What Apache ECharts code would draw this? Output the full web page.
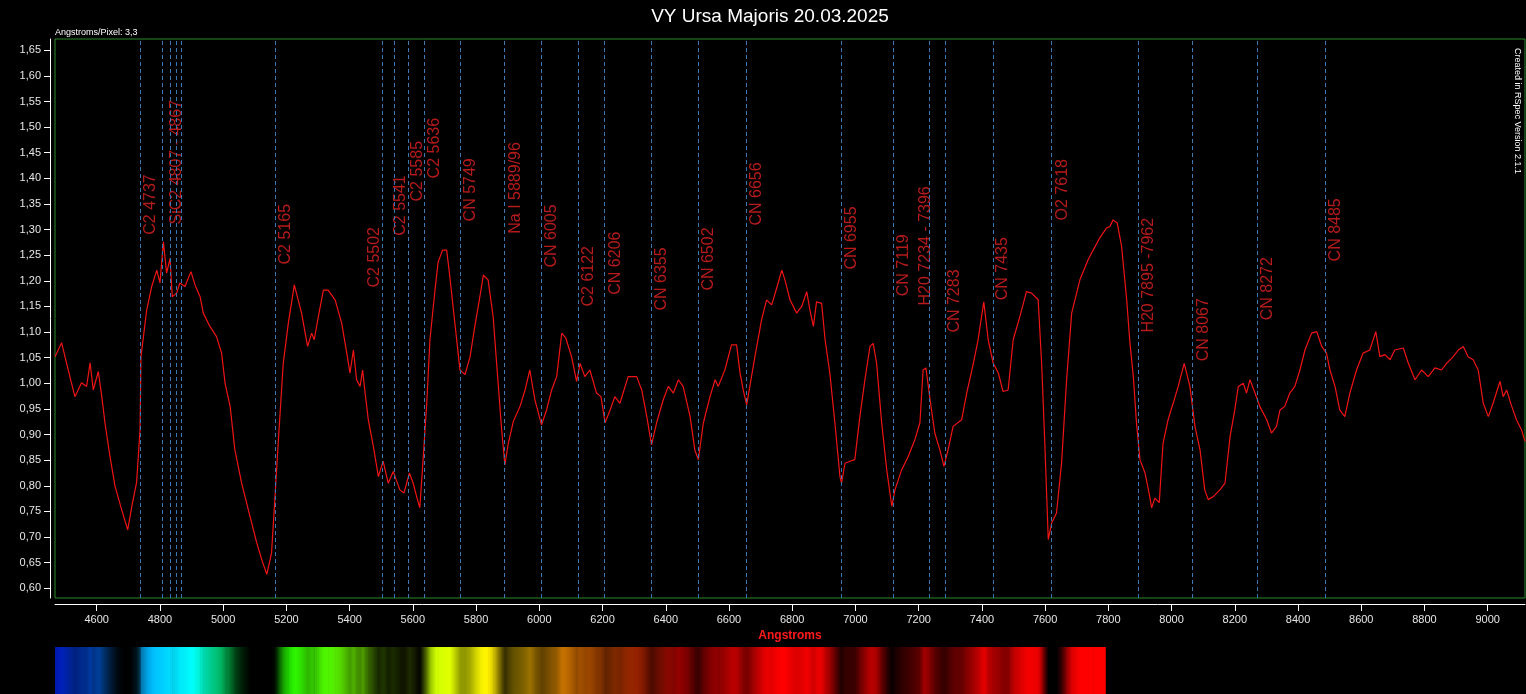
<!DOCTYPE html>
<html>
<head>
<meta charset="utf-8">
<title>VY Ursa Majoris 20.03.2025</title>
<script src="https://cdn.jsdelivr.net/npm/echarts@6/dist/echarts.min.js"></script>
<style>
  html, body { margin: 0; padding: 0; background: #000; }
  #chart { width: 1526px; height: 694px; }
</style>
</head>
<body>
<div id="chart"></div>
<script>
// spectrum (Angstroms / relative flux)
const wavelengths = [
  4468, 4489, 4515, 4531, 4552, 4568, 4579, 4589, 4605, 4616, 4626, 4642, 4658, 4679, 4698, 4711, 4726, 4737, 4740, 4758,
  4774, 4790, 4800, 4811, 4821, 4832, 4839, 4853, 4863, 4879, 4898, 4911, 4927, 4937, 4958, 4979, 4995, 5006, 5022, 5037,
  5058, 5085, 5106, 5122, 5138, 5153, 5164, 5174, 5190, 5206, 5225, 5248, 5267, 5280, 5288, 5301, 5317, 5332, 5354, 5375,
  5391, 5401, 5412, 5422, 5433, 5441, 5449, 5459, 5475, 5491, 5506, 5522, 5538, 5547, 5559, 5572, 5589, 5601, 5612, 5622,
  5633, 5644, 5654, 5670, 5680, 5694, 5707, 5717, 5733, 5749, 5765, 5781, 5796, 5812, 5823, 5838, 5854, 5865, 5881, 5891,
  5902, 5918, 5939, 5955, 5970, 5986, 6007, 6023, 6039, 6055, 6071, 6084, 6102, 6118, 6129, 6144, 6160, 6181, 6195, 6208,
  6224, 6239, 6255, 6281, 6308, 6324, 6340, 6355, 6371, 6392, 6408, 6424, 6440, 6455, 6477, 6492, 6503, 6519, 6540, 6556,
  6566, 6587, 6608, 6624, 6635, 6645, 6656, 6666, 6682, 6703, 6719, 6735, 6751, 6767, 6777, 6793, 6814, 6830, 6846, 6856,
  6867, 6877, 6893, 6904, 6919, 6935, 6951, 6956, 6967, 6983, 6998, 7014, 7030, 7046, 7056, 7067, 7083, 7099, 7115, 7125,
  7146, 7167, 7188, 7204, 7214, 7223, 7236, 7251, 7267, 7280, 7293, 7309, 7336, 7352, 7373, 7388, 7406, 7420, 7436, 7452,
  7467, 7483, 7499, 7520, 7541, 7557, 7578, 7589, 7599, 7610, 7621, 7636, 7652, 7668, 7684, 7710, 7736, 7752, 7773, 7794,
  7805, 7815, 7828, 7842, 7858, 7868, 7879, 7889, 7900, 7916, 7931, 7937, 7947, 7961, 7973, 7989, 8005, 8021, 8040, 8058,
  8074, 8090, 8105, 8116, 8132, 8153, 8169, 8185, 8200, 8211, 8227, 8237, 8248, 8264, 8279, 8301, 8316, 8332, 8343, 8358,
  8374, 8390, 8406, 8422, 8443, 8459, 8475, 8490, 8501, 8517, 8532, 8548, 8564, 8585, 8606, 8627, 8646, 8659, 8675, 8691,
  8706, 8733, 8749, 8770, 8791, 8812, 8833, 8854, 8870, 8891, 8907, 8923, 8938, 8954, 8970, 8986, 9002, 9017, 9039, 9049,
  9060, 9076, 9091, 9107, 9118
]
const flux = [
  1.052, 1.079, 1.013, 0.974, 1.001, 0.994, 1.040, 0.987, 1.023, 0.974, 0.923, 0.857, 0.799, 0.753, 0.714, 0.760, 0.806, 0.909, 1.052, 1.143,
  1.189, 1.221, 1.196, 1.276, 1.215, 1.244, 1.169, 1.176, 1.196, 1.189, 1.218, 1.192, 1.169, 1.137, 1.111, 1.091, 1.059, 1.000, 0.955, 0.870,
  0.806, 0.740, 0.689, 0.656, 0.627, 0.669, 0.779, 0.883, 1.039, 1.117, 1.192, 1.137, 1.072, 1.098, 1.085, 1.130, 1.182, 1.182, 1.163, 1.117,
  1.059, 1.020, 1.065, 1.007, 0.994, 1.026, 0.981, 0.929, 0.877, 0.818, 0.848, 0.805, 0.828, 0.812, 0.792, 0.786, 0.825, 0.805, 0.779, 0.757,
  0.857, 0.961, 1.085, 1.182, 1.237, 1.260, 1.260, 1.208, 1.117, 1.026, 1.017, 1.052, 1.111, 1.169, 1.211, 1.202, 1.130, 1.039, 0.909, 0.841,
  0.883, 0.926, 0.955, 0.987, 1.026, 0.968, 0.919, 0.948, 0.987, 1.013, 1.098, 1.088, 1.052, 1.004, 1.039, 1.013, 1.026, 0.981, 0.974, 0.923,
  0.948, 0.974, 0.961, 1.013, 1.013, 0.987, 0.935, 0.880, 0.923, 0.968, 0.994, 0.981, 1.007, 0.994, 0.935, 0.870, 0.851, 0.923, 0.974, 1.007,
  0.994, 1.026, 1.075, 1.075, 1.020, 0.987, 0.958, 0.994, 1.052, 1.124, 1.163, 1.153, 1.186, 1.221, 1.202, 1.163, 1.137, 1.150, 1.179, 1.143,
  1.111, 1.159, 1.156, 1.085, 1.020, 0.923, 0.818, 0.805, 0.844, 0.848, 0.851, 0.935, 1.007, 1.072, 1.078, 1.039, 0.923, 0.831, 0.760, 0.792,
  0.831, 0.857, 0.890, 0.923, 1.026, 1.030, 0.968, 0.903, 0.870, 0.838, 0.870, 0.916, 0.929, 0.981, 1.039, 1.085, 1.159, 1.085, 1.039, 1.020,
  0.984, 0.987, 1.085, 1.130, 1.179, 1.176, 1.163, 1.039, 0.883, 0.695, 0.728, 0.747, 0.844, 1.007, 1.137, 1.202, 1.241, 1.260, 1.284, 1.303,
  1.306, 1.319, 1.313, 1.267, 1.163, 1.081, 1.013, 0.923, 0.851, 0.825, 0.779, 0.757, 0.776, 0.767, 0.883, 0.929, 0.961, 0.994, 1.039, 0.994,
  0.916, 0.870, 0.792, 0.773, 0.779, 0.792, 0.805, 0.896, 0.948, 0.994, 1.000, 0.981, 1.007, 0.981, 0.955, 0.929, 0.903, 0.916, 0.948, 0.955,
  0.981, 0.994, 1.026, 1.065, 1.098, 1.101, 1.072, 1.059, 1.026, 0.994, 0.948, 0.935, 0.981, 1.026, 1.059, 1.065, 1.101, 1.052, 1.056, 1.046,
  1.065, 1.069, 1.039, 1.007, 1.026, 1.013, 1.030, 1.026, 1.039, 1.052, 1.065, 1.072, 1.052, 1.046, 1.026, 0.961, 0.935, 0.961, 1.004, 0.974,
  0.987, 0.955, 0.929, 0.909, 0.887
]

// identified lines (dashed markers)
const lineWavelengths = [4737, 4807, 4832, 4851, 4867, 5165, 5502, 5541, 5585, 5636, 5749, 5889, 6005, 6122, 6206, 6355,
  6502, 6656, 6955, 7119, 7234, 7283, 7435, 7618, 7895, 8067, 8272, 8485]

// line labels: text, wavelength where the text sits, flux level where it starts
const labelTexts = ['C2 4737', 'SiC2 4807 - 4867', 'C2 5165', 'C2 5502', 'C2 5541', 'C2 5585', 'C2 5636', 'CN 5749',
  'Na I 5889/96', 'CN 6005', 'C2 6122', 'CN 6206', 'CN 6355', 'CN 6502', 'CN 6656', 'CN 6955', 'CN 7119',
  'H20 7234 - 7396', 'CN 7283', 'CN 7435', 'O2 7618', 'H20 7895 -7962', 'CN 8067', 'CN 8272', 'CN 8485']
const labelWavelengths = [4738, 4818, 5165, 5445, 5528, 5582, 5635, 5750, 5893, 6006, 6123, 6207, 6355, 6503, 6655,
  6955, 7119, 7190, 7281, 7432, 7621, 7895, 8068, 8272, 8487]
const labelLevels = [1.289, 1.309, 1.231, 1.186, 1.287, 1.354, 1.399, 1.315, 1.291, 1.225, 1.149, 1.172, 1.141, 1.180,
  1.307, 1.221, 1.169, 1.151, 1.098, 1.161, 1.317, 1.098, 1.042, 1.122, 1.237]

const xTicks = [4600, 4800, 5000, 5200, 5400, 5600, 5800, 6000, 6200, 6400, 6600, 6800, 7000, 7200, 7400, 7600, 7800,
  8000, 8200, 8400, 8600, 8800, 9000]
const yTicks = [0.60, 0.65, 0.70, 0.75, 0.80, 0.85, 0.90, 0.95, 1.00, 1.05, 1.10, 1.15, 1.20, 1.25, 1.30, 1.35, 1.40,
  1.45, 1.50, 1.55, 1.60, 1.65]
const xRange = [4468, 9118]
const yRange = [0.581, 1.672]
const stripEnd = 7790 // colour strip stops here

const FONT = 'Liberation Sans, Arial, sans-serif'

// rough wavelength -> rgb, dimmed by the flux, for the strip under the axis
function stripColor (lam, v) {
  const nm = lam / 10
  let r = 0
  let g = 0
  let b = 0
  if (nm < 490) { g = Math.max(0, (nm - 440) / 50); b = 1 } else if (nm < 510) { g = 1; b = (510 - nm) / 20 } else if (nm < 580) { r = (nm - 510) / 70; g = 1 } else if (nm < 645) { r = 1; g = (645 - nm) / 65 } else { r = 1 }
  const k = Math.min(1, Math.max(0, (v - 0.75) / 0.45))
  return 'rgb(' + Math.round(r * k * 255) + ',' + Math.round(g * k * 255) + ',' + Math.round(b * k * 255) + ')'
}

const spectrum = wavelengths.map((w, i) => [w, flux[i]])
const stripData = []
for (let i = 0; i < wavelengths.length - 1; i++) {
  if (wavelengths[i] >= stripEnd) break
  stripData.push([wavelengths[i], Math.min(wavelengths[i + 1], stripEnd), flux[i], flux[i + 1]])
}

const chart = echarts.init(document.getElementById('chart'))
chart.setOption({
  backgroundColor: '#000',
  animation: false,
  title: {
    text: 'VY Ursa Majoris 20.03.2025',
    left: 770,
    top: 7,
    textAlign: 'center',
    padding: 0,
    textStyle: { color: '#ffffff', fontSize: 19, fontWeight: 'normal', fontFamily: FONT }
  },
  graphic: [
    {
      type: 'text',
      left: 55,
      top: 28,
      style: { text: 'Angstroms/Pixel: 3,3', fill: '#ffffff', font: '9px ' + FONT }
    },
    {
      type: 'text',
      x: 1522,
      y: 48,
      rotation: -Math.PI / 2,
      style: { text: 'Created in RSpec Version 2.1.1', fill: '#ffffff', font: '9px ' + FONT }
    }
  ],
  grid: [
    { left: 55, right: 1, top: 39, bottom: 96, show: true, borderColor: '#2a8a2a', borderWidth: 1, backgroundColor: 'transparent' },
    { left: 55, right: 1, top: 647, height: 47 }
  ],
  xAxis: [
    {
      type: 'value',
      min: xRange[0],
      max: xRange[1],
      offset: 6,
      name: 'Angstroms',
      nameLocation: 'middle',
      nameGap: 26,
      nameTextStyle: { color: '#ff1a1a', fontWeight: 'bold', fontSize: 12, fontFamily: FONT },
      axisLine: { onZero: false, lineStyle: { color: '#ffffff', width: 1 } },
      axisTick: { customValues: xTicks, length: 7, lineStyle: { color: '#ffffff' } },
      axisLabel: {
        customValues: xTicks,
        color: '#e6e6e6',
        fontSize: 11,
        margin: 10,
        fontFamily: FONT,
        formatter: v => String(v)
      },
      splitLine: { show: false }
    },
    { type: 'value', gridIndex: 1, min: xRange[0], max: xRange[1], show: false }
  ],
  yAxis: [
    {
      type: 'value',
      min: yRange[0],
      max: yRange[1],
      offset: 5,
      axisLine: { show: true, onZero: false, lineStyle: { color: '#ffffff', width: 1 } },
      axisTick: { show: true, customValues: yTicks, length: 6, lineStyle: { color: '#ffffff' } },
      axisLabel: {
        customValues: yTicks,
        color: '#e6e6e6',
        fontSize: 11,
        margin: 9,
        fontFamily: FONT,
        formatter: v => v.toFixed(2).replace('.', ',')
      },
      splitLine: { show: false }
    },
    { type: 'value', gridIndex: 1, min: 0, max: 1, show: false }
  ],
  series: [
    {
      type: 'line',
      data: spectrum,
      showSymbol: false,
      lineStyle: { color: '#f01414', width: 1.2 },
      z: 3,
      markLine: {
        silent: true,
        symbol: ['none', 'none'],
        label: { show: false },
        lineStyle: { color: '#3a78b4', width: 1, type: [4, 3] },
        data: lineWavelengths.map(w => ({ xAxis: w }))
      }
    },
    {
      type: 'scatter',
      silent: true,
      symbolSize: 1,
      itemStyle: { color: 'transparent' },
      data: labelTexts.map((t, i) => ({ name: t, value: [labelWavelengths[i], labelLevels[i]] })),
      label: {
        show: true,
        formatter: '{b}',
        position: [0, 0],
        rotate: 90,
        align: 'left',
        verticalAlign: 'top',
        padding: [3, 0, 0, 0],
        color: '#e32222',
        fontSize: 16,
        fontFamily: FONT
      },
      z: 4
    },
    {
      type: 'custom',
      xAxisIndex: 1,
      yAxisIndex: 1,
      silent: true,
      data: stripData,
      renderItem (params, api) {
        const a = api.coord([api.value(0), 1])
        const b = api.coord([api.value(1), 0])
        return {
          type: 'rect',
          shape: { x: a[0], y: a[1], width: b[0] - a[0] + 0.6, height: b[1] - a[1] },
          style: {
            fill: new echarts.graphic.LinearGradient(0, 0, 1, 0, [
              { offset: 0, color: stripColor(api.value(0), api.value(2)) },
              { offset: 1, color: stripColor(api.value(1), api.value(3)) }
            ])
          }
        }
      }
    }
  ]
})
</script>
</body>
</html>
